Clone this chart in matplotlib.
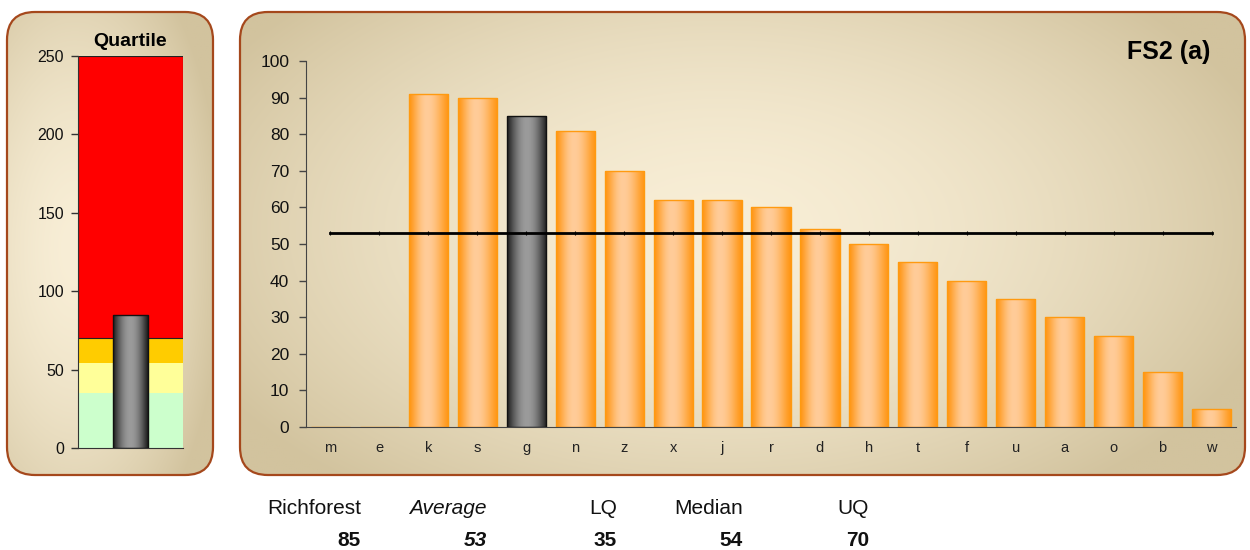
import numpy as np
import matplotlib
matplotlib.use("Agg")
import matplotlib.pyplot as plt
from matplotlib.patches import FancyBboxPatch

plt.rcParams['font.family'] = ['Liberation Sans', 'DejaVu Sans']

# ---- data -------------------------------------------------------------
categories = ['m', 'e', 'k', 's', 'g', 'n', 'z', 'x', 'j', 'r',
              'd', 'h', 't', 'f', 'u', 'a', 'o', 'b', 'w']
scores = [0, 0, 91, 90, 85, 81, 70, 62, 62, 60,
          54, 50, 45, 40, 35, 30, 25, 15, 5]
highlight = 'g'
average = 53
lq, median, uq = 35, 54, 70
scale_max = 250
own_name = 'Richforest'
own_score = 85
chart_title = 'FS2 (a)'
band_colors = ['#CCFFCC', '#FFFF99', '#FFCC00', '#FF0000']
summary_labels = [own_name, 'Average', 'LQ', 'Median', 'UQ']
summary_values = [own_score, average, lq, median, uq]

W, H = 1250, 550
fig = plt.figure(figsize=(W / 100, H / 100), dpi=100)

# ---- background panels (pixel coordinates) ---------------------------
bg = fig.add_axes([0, 0, 1, 1])
bg.axis('off')

LIGHT = np.array([248, 238, 214]) / 255
DARK = np.array([210, 195, 158]) / 255


def panel(x0, y0, x1, y1, cx, cy, rx, ry):
    box = FancyBboxPatch((x0, y0), x1 - x0, y1 - y0,
                         boxstyle="round,pad=0,rounding_size=28",
                         facecolor='none', edgecolor='#A5481C',
                         linewidth=1.6, zorder=3)
    bg.add_patch(box)
    xs = np.linspace(x0, x1, 400)
    ys = np.linspace(y0, y1, 250)
    X, Y = np.meshgrid(xs, ys)
    d = np.sqrt(((X - cx) / rx) ** 2 + ((Y - cy) / ry) ** 2)
    t = np.clip(d, 0, 1) ** 1.7
    img = LIGHT * (1 - t[..., None]) + DARK * t[..., None]
    im = bg.imshow(img, extent=(x0, x1, y1, y0), origin='upper',
                   aspect='auto', zorder=1, interpolation='bilinear')
    im.set_clip_path(box)


panel(7, 12, 213, 475, 75, 250, 150, 330)
panel(240, 12, 1245, 475, 720, 230, 580, 330)
bg.set_xlim(0, W)
bg.set_ylim(H, 0)


def shade(ax, bars, edge_rgb, mid_rgb, peak=0.45, power=1.3):
    """Fill each bar with a horizontal cylinder-like gradient."""
    p = np.linspace(0, 1, 120)
    w = np.where(p < peak, p / peak, (1 - p) / (1 - peak))
    w = np.sin(np.pi / 2 * w) ** power
    edge_rgb = np.array(edge_rgb) / 255
    mid_rgb = np.array(mid_rgb) / 255
    cols = edge_rgb + (mid_rgb - edge_rgb) * w[:, None]
    img = cols[None, :, :]
    for b in bars:
        if b.get_height() <= 0:
            continue
        x, y = b.get_x(), b.get_y()
        im = ax.imshow(img, extent=(x, x + b.get_width(), y, y + b.get_height()),
                       aspect='auto', zorder=b.get_zorder() - 0.5,
                       interpolation='bilinear')
        im.set_clip_path(b)


# ---- left: quartile gauge --------------------------------------------
ax2 = fig.add_axes([78 / W, 1 - 448 / H, 105 / W, 392 / H])
ax2.patch.set_alpha(0)
bottoms = [0, lq, median, uq]
heights = [lq, median - lq, uq - median, scale_max - uq]
ax2.bar([0] * 4, heights, bottom=bottoms, width=1.0, color=band_colors,
        linewidth=0, zorder=1)
ax2.bar(0, scale_max - uq, bottom=uq, width=1.0, facecolor='none',
        edgecolor='#222222', linewidth=0.8, zorder=1.5)
own_bar = ax2.bar(0, own_score, width=1 / 3, facecolor='none',
                  edgecolor='#111111', linewidth=1.0, zorder=3)
shade(ax2, own_bar, (28, 28, 28), (155, 155, 155), peak=0.5, power=1.0)
ax2.set_xlim(-0.5, 0.5)
ax2.set_ylim(0, scale_max)
ax2.set_yticks(range(0, scale_max + 1, 50))
ax2.set_xticks([])
for s in ['top', 'right']:
    ax2.spines[s].set_visible(False)
ax2.spines['left'].set_color('#333333')
ax2.spines['bottom'].set_color('#333333')
ax2.tick_params(axis='y', length=5, width=1, color='#333333', pad=5,
                labelsize=11.5, labelcolor='#111111')
fig.text(130 / W, 1 - 41 / H, 'Quartile', ha='center', va='center',
         fontsize=14, fontweight='bold')

# ---- right: ranked scores --------------------------------------------
ax = fig.add_axes([306 / W, 1 - 427 / H, (1236 - 306) / W, (427 - 61) / H])
ax.patch.set_alpha(0)
x = np.arange(len(categories))
is_own = [c == highlight for c in categories]
edges = ['#111111' if o else '#FF9A10' for o in is_own]
bars = ax.bar(x, scores, width=0.8, facecolor='none', edgecolor=edges,
              linewidth=1.0, zorder=2)
orange_bars = [b for b, o in zip(bars, is_own) if not o]
grey_bars = [b for b, o in zip(bars, is_own) if o]
shade(ax, orange_bars, (255, 150, 20), (255, 204, 153))
shade(ax, grey_bars, (28, 28, 28), (155, 155, 155), peak=0.5, power=1.0)

ax.plot(x, [average] * len(x), color='black', linewidth=2.0,
        marker='|', markersize=2.5, markeredgewidth=0.8, zorder=4)

ax.set_xlim(-0.5, len(categories) - 0.5)
ax.set_ylim(0, 100)
ax.set_yticks(range(0, 101, 10))
ax.set_xticks(x)
ax.set_xticklabels(categories)
for s in ['top', 'right']:
    ax.spines[s].set_visible(False)
ax.spines['left'].set_color('#444444')
ax.spines['bottom'].set_color('#444444')
ax.tick_params(axis='x', length=0, pad=10, labelsize=10.5, labelcolor='#222222')
ax.tick_params(axis='y', length=5, width=1, color='#444444', pad=7,
               labelsize=12.5, labelcolor='#111111')

fig.text(1210 / W, 1 - 52 / H, chart_title, ha='right', va='center',
         fontsize=18, fontweight='bold')

# ---- summary row ------------------------------------------------------
col_right = [361, 487, 617, 743, 869]
for i, (lab, val) in enumerate(zip(summary_labels, summary_values)):
    style = 'italic' if lab == 'Average' else 'normal'
    fig.text(col_right[i] / W, 1 - 508 / H, lab, ha='right', va='center',
             fontsize=15, fontstyle=style, color='#111111')
    fig.text(col_right[i] / W, 1 - 541 / H, str(val), ha='right', va='center',
             fontsize=15, fontstyle=style, fontweight='bold', color='#111111')

fig.savefig('out.png', dpi=100)
